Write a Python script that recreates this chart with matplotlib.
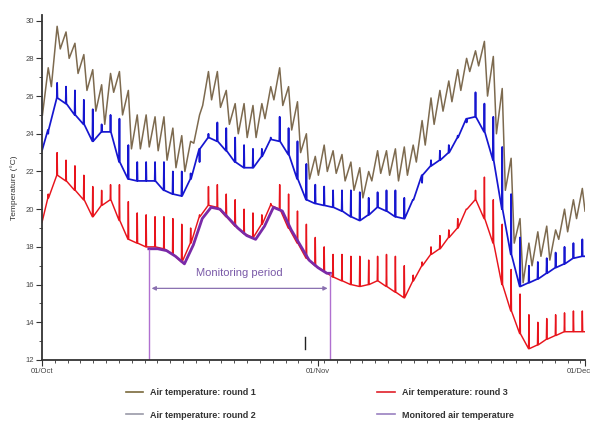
import numpy as np
import matplotlib
matplotlib.use('Agg')
from matplotlib import pyplot as plt
from matplotlib.lines import Line2D
from matplotlib.ticker import MultipleLocator, FixedLocator
from matplotlib.transforms import ScaledTranslation

plt.rcParams['font.family'] = ['Liberation Sans', 'DejaVu Sans']

# day 0 = 01/Oct, one reading pair per day
round1_low = [25.0, 26.5, 28.5, 28.0, 27.2, 26.3, 25.2, 24.5, 26.2, 25.0,
              23.2, 23.2, 23.3, 23.1, 22.6, 22.2, 22.0, 23.5, 25.5, 25.8,
              25.4, 24.5, 24.0, 23.8, 23.8, 24.8, 25.8, 25.5, 24.2, 23.0,
              21.6, 21.8, 22.0, 21.9, 21.5, 21.0, 20.6, 21.5, 21.9, 21.8,
              21.5, 21.8, 22.5, 23.4, 24.5, 25.2, 25.7, 26.3, 27.3, 27.6,
              26.0, 24.0, 21.0, 18.2, 16.1, 17.0, 17.5, 17.3, 18.4, 18.8,
              19.5, 19.9]
round1_high = [27.5, 29.7, 29.4, 28.8, 28.2, 27.4, 26.6, 27.2, 27.3, 26.3,
               25.0, 25.0, 24.9, 24.9, 24.3, 23.9, 23.6, 25.0, 27.3, 27.3,
               26.3, 25.6, 25.6, 25.5, 25.6, 26.5, 27.5, 26.5, 25.7, 24.0,
               22.8, 23.4, 23.1, 22.9, 22.5, 22.2, 22.0, 23.1, 23.1, 23.2,
               23.3, 23.4, 24.7, 25.9, 26.3, 26.8, 27.4, 28.0, 28.4, 28.9,
               28.1, 26.4, 22.7, 19.5, 18.2, 18.8, 19.1, 18.9, 20.0, 20.5,
               21.1]
round2_base = [23.1, 24.2, 25.9, 25.6, 25.0, 24.5, 23.6, 24.1, 24.1, 22.5,
               21.6, 21.5, 21.5, 21.5, 21.0, 20.8, 20.7, 21.6, 23.2, 23.8,
               23.6, 23.1, 22.5, 22.2, 22.2, 22.8, 23.7, 23.6, 22.9, 21.6,
               20.5, 20.3, 20.2, 20.1, 19.9, 19.6, 19.4, 19.7, 20.1, 19.9,
               19.6, 19.5, 20.5, 21.8, 22.3, 22.6, 23.0, 23.8, 24.8, 24.9,
               24.1, 22.6, 20.0, 17.6, 15.9, 16.1, 16.3, 16.6, 16.9, 17.1,
               17.4, 17.5]
round2_peak = [24.0, 26.7, 26.5, 26.3, 25.8, 25.3, 24.5, 25.0, 24.8, 23.4,
               22.5, 22.5, 22.5, 22.5, 22.0, 22.0, 21.9, 22.5, 24.0, 24.6,
               24.3, 23.8, 23.4, 23.2, 23.2, 23.8, 24.9, 24.3, 23.6, 22.4,
               21.3, 21.2, 21.0, 21.0, 21.0, 20.9, 20.6, 20.9, 21.0, 21.0,
               20.6, 20.5, 21.4, 22.6, 23.1, 23.4, 23.9, 24.6, 26.2, 25.6,
               24.9, 23.3, 20.8, 18.5, 17.0, 17.2, 17.4, 17.7, 18.0, 18.2,
               18.4]
round3_base = [19.3, 20.6, 21.8, 21.5, 21.0, 20.5, 19.6, 20.2, 20.5, 19.4,
               18.4, 18.2, 18.0, 18.0, 17.9, 17.6, 17.2, 18.2, 19.6, 20.2,
               20.1, 19.6, 19.1, 18.7, 18.5, 19.2, 20.2, 20.0, 19.0, 18.2,
               17.4, 17.0, 16.7, 16.4, 16.2, 16.0, 15.9, 16.0, 16.2, 15.9,
               15.6, 15.3, 16.2, 17.0, 17.6, 17.9, 18.5, 19.0, 20.0, 20.5,
               19.5, 18.2, 16.0, 14.6, 13.4, 12.6, 12.8, 13.1, 13.3, 13.5,
               13.5, 13.5]
round3_peak = [20.8, 23.0, 22.6, 22.3, 21.8, 21.2, 21.0, 21.3, 21.3, 20.4,
               19.8, 19.7, 19.6, 19.6, 19.5, 19.2, 19.0, 19.7, 21.2, 21.3,
               20.8, 20.5, 20.0, 19.8, 19.7, 20.3, 21.3, 20.8, 19.9, 19.2,
               18.5, 18.0, 17.6, 17.6, 17.5, 17.5, 17.3, 17.5, 17.6, 17.5,
               17.0, 16.5, 17.2, 18.0, 18.6, 18.9, 19.5, 20.0, 21.0, 21.7,
               20.5, 19.2, 16.8, 15.5, 14.4, 14.0, 14.2, 14.4, 14.5, 14.6,
               14.6]
monitored_days = [12, 13, 14, 15, 16, 17, 18, 19, 20, 21, 22, 23, 24, 25,
                  26, 27, 28, 29, 30, 31, 32, 32.4]
monitored_temp = [17.9, 17.9, 17.8, 17.5, 17.1, 18.1, 19.5, 20.1, 20.0, 19.5,
                  19.0, 18.6, 18.4, 19.1, 20.1, 19.9, 18.9, 18.1, 17.3, 16.9,
                  16.6, 16.6]
tick_days = [0, 31, 61]
tick_labels = ['01/Oct', '01/Nov', '01/Dec']
period_arrow_temp = 15.8


def spiky(base, peak):
    # base level read at spike time, narrow afternoon spike on top
    x, y = [0], [base[0]]
    for d, p in enumerate(peak):
        x += [d + 0.66, d + 0.7, d + 0.74]
        y += [base[d + 1], p, base[d + 1]]
    x.append(len(base) - 1)
    y.append(base[-1])
    return x, y


def zigzag(low, high):
    x, y = [], []
    for d, (lo, hi) in enumerate(zip(low, high)):
        x += [d + 0.05, d + 0.7]
        y += [lo, hi]
    x.append(len(low) - 1)
    y.append(low[-1])
    return x, y


fig = plt.figure(figsize=(5.9, 4.24), dpi=100)
ax = fig.add_axes([42 / 590, 1 - 360 / 424, 543 / 590, 345 / 424])

x1, y1 = zigzag(round1_low, round1_high)
x2, y2 = spiky(round2_base, round2_peak)
x3, y3 = spiky(round3_base, round3_peak)
ax.plot(x1, y1, color='#7d6a4f', lw=1.1)
ax.plot(x2, y2, color='#1616d0', lw=1.25)
ax.plot(x3, y3, color='#e8141c', lw=1.05)
ax.plot(monitored_days, monitored_temp, color='#7a2aa8', lw=2.0)

# monitoring period markers
p0, p1 = monitored_days[0], monitored_days[-1]
ax.vlines([p0, p1], 12, [monitored_temp[0], monitored_temp[-1]],
          color='#b070d0', lw=1.0)
ax.annotate('', xy=(p0, period_arrow_temp), xytext=(p1, period_arrow_temp),
            arrowprops=dict(arrowstyle='<|-|>', color='#8a70b0', lw=0.9,
                            mutation_scale=6))
ax.text((p0 + p1) / 2, 16.6, 'Monitoring period', ha='center', va='center',
        fontsize=8, color='#7a5aa8')
ax.plot([29.6, 29.6], [12.6, 13.2], color='#222222', lw=1.0)

ax.set_xlim(0, 61)
ax.set_ylim(12, 30.3)
ax.xaxis.set_major_locator(FixedLocator(tick_days))
ax.set_xticklabels(tick_labels)
ax.xaxis.set_minor_locator(MultipleLocator(1.44))
ax.yaxis.set_major_locator(FixedLocator(np.arange(12, 31, 2)))
ax.yaxis.set_minor_locator(MultipleLocator(1))
ax.tick_params(axis='both', which='major', labelsize=5.5, labelcolor='#444444',
               color='#333333', length=4, width=0.8, pad=2)
ax.tick_params(axis='both', which='minor', color='#333333', length=2.5, width=0.6)
last = ax.get_xticklabels()[-1]
last.set_ha('right')
last.set_transform(last.get_transform() + ScaledTranslation(4 / 72, 0, fig.dpi_scale_trans))
for side in ['top', 'right']:
    ax.spines[side].set_visible(False)
for side in ['left', 'bottom']:
    ax.spines[side].set_color('#333333')
    ax.spines[side].set_linewidth(1.3)
ax.set_ylabel('Temperature (°C)', fontsize=6, color='#333333', labelpad=5)

handles = [Line2D([], [], color='#7a6a3c', lw=1.2),
           Line2D([], [], color='#9a9aa8', lw=1.2),
           Line2D([], [], color='#e0202a', lw=1.2),
           Line2D([], [], color='#9a80c0', lw=1.2)]
labels = ['Air temperature: round 1', 'Air temperature: round 2',
          'Air temperature: round 3', 'Monitored air temperature']
fig.legend(handles, labels, loc='upper left', bbox_to_anchor=(0.2, 0.103),
           ncol=2, frameon=False, handlelength=1.9, handletextpad=0.8,
           columnspacing=13.4, labelspacing=1.45,
           prop=dict(size=6.5, weight='bold'), labelcolor='#333333')

fig.savefig('out.png', dpi=100)
